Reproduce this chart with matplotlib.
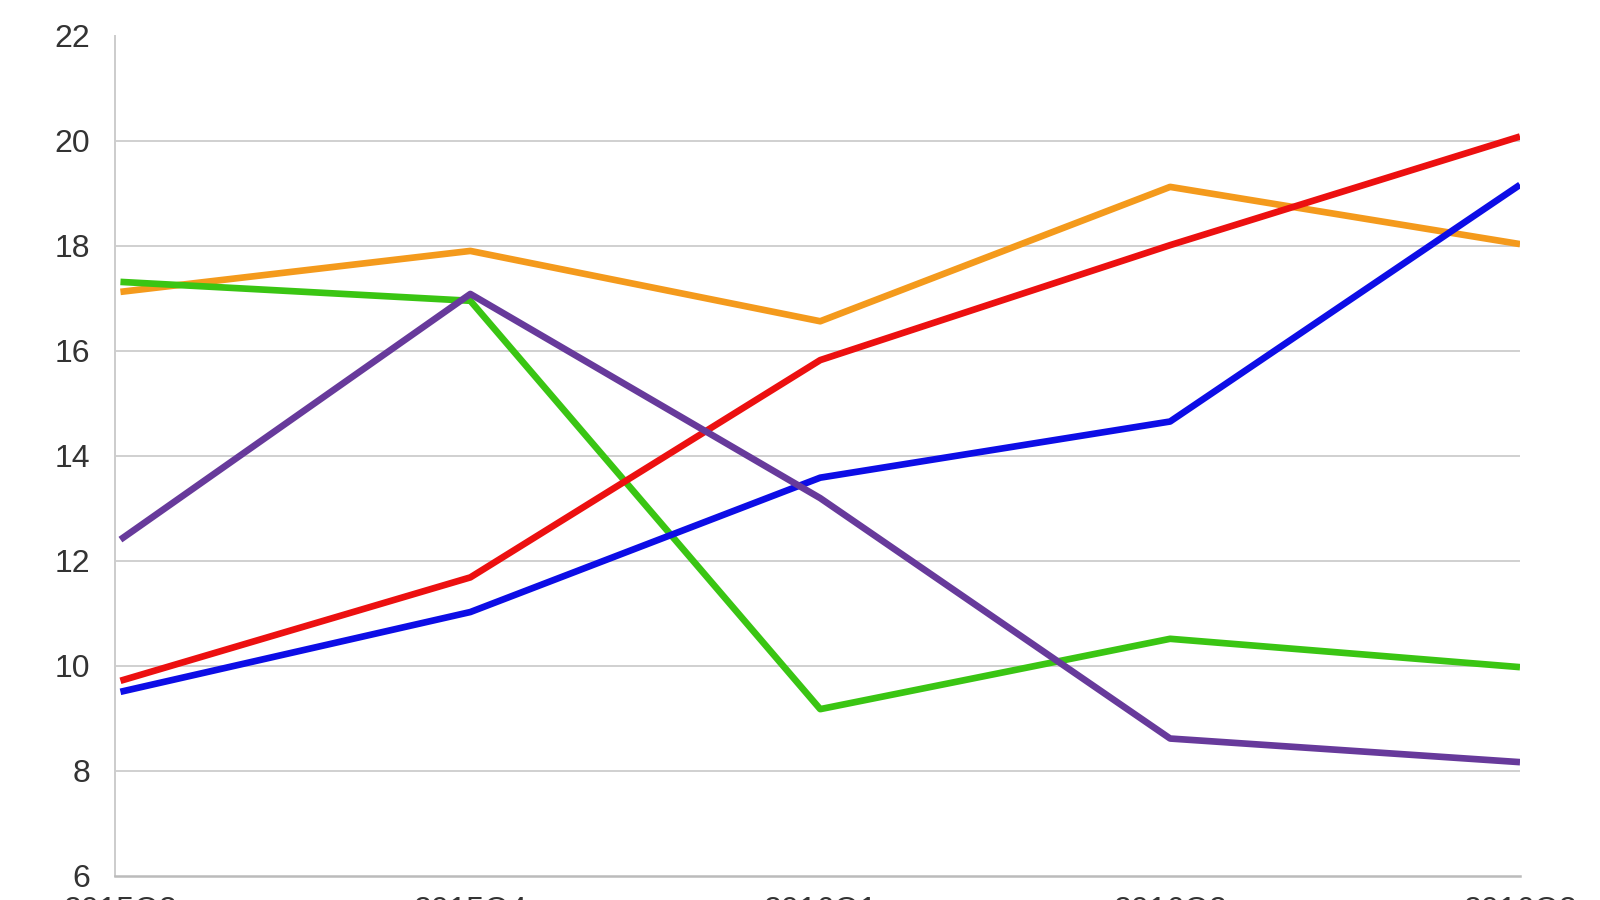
import matplotlib.pyplot as plt
import numpy as np

# Data
periods = ['2015Q3', '2015Q4', '2016Q1', '2016Q2', '2016Q3']
red = [9.71, 11.68, 15.82, 18.01, 20.08]
blue = [9.50, 11.02, 13.58, 14.65, 19.16]
orange = [17.12, 17.90, 16.56, 19.12, 18.03]
green = [17.31, 16.95, 9.17, 10.51, 9.97]
purple = [12.40, 17.08, 13.19, 8.61, 8.16]

y_ticks = [6, 8, 10, 12, 14, 16, 18, 20, 22]

plt.rcParams['font.family'] = ['Liberation Sans', 'DejaVu Sans']

fig = plt.figure(figsize=(16, 9), dpi=100)
ax = fig.add_axes([0.072, 0.0272, 0.878, 0.9331])

x = np.arange(len(periods))
series = [
    (orange, '#f49a1c'),
    (green, '#3ac513'),
    (red, '#ec1010'),
    (blue, '#0d0de6'),
    (purple, '#673a9b'),
]
for vals, col in series:
    ax.plot(x, vals, color=col, linewidth=4.8, solid_capstyle='butt', zorder=3)

ax.set_xlim(-0.015, 4)
ax.set_ylim(6, 22)
ax.set_yticks(y_ticks)
ax.set_yticklabels([str(t) for t in y_ticks])
ax.set_xticks(x)
ax.set_xticklabels(periods)

for t in y_ticks[1:-1]:
    ax.axhline(t, color='#d0d0d0', linewidth=1.4, zorder=1)

for side in ['top', 'right']:
    ax.spines[side].set_visible(False)
ax.spines['left'].set_color('#cccccc')
ax.spines['left'].set_linewidth(1.4)
ax.spines['bottom'].set_color('#bbbbbb')
ax.spines['bottom'].set_linewidth(1.8)

ax.tick_params(axis='both', length=0, labelsize=23, colors='#333333')
ax.tick_params(axis='y', pad=18)
ax.tick_params(axis='x', pad=15)

fig.savefig('out.png', dpi=100)
